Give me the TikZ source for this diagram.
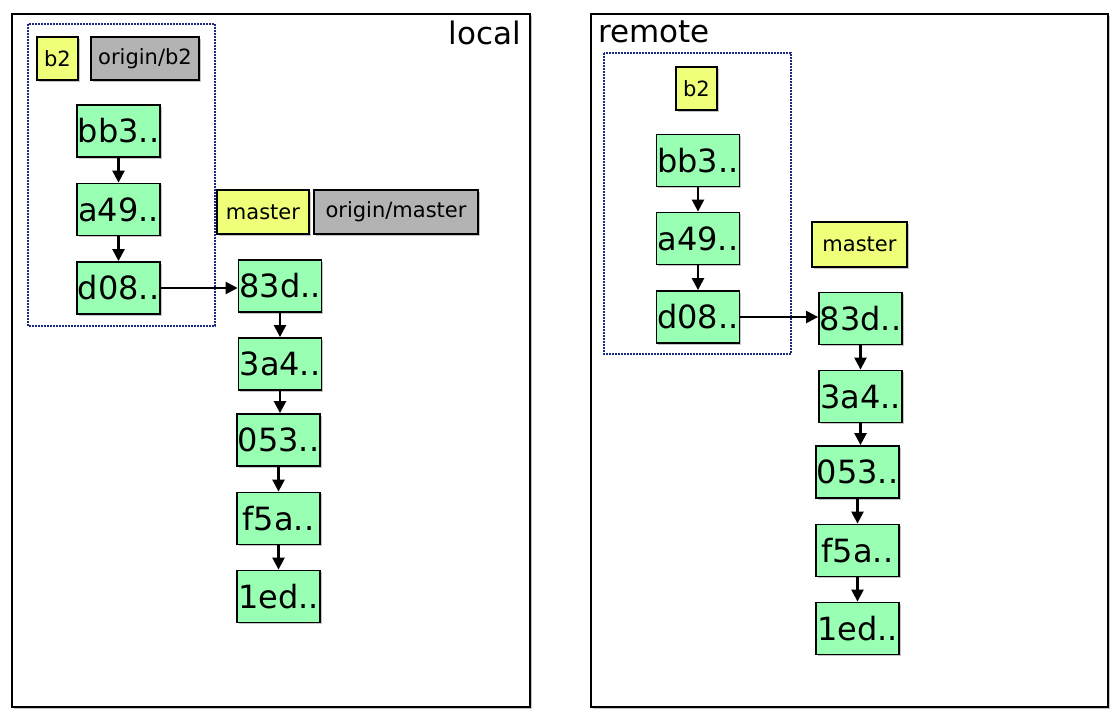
\documentclass[tikz,border=0pt]{standalone}
\usepackage{fontspec}
\setmainfont{DejaVu Sans}
\usetikzlibrary{arrows.meta,shadows}

\begin{document}
\begin{tikzpicture}[x=1pt,y=-1pt,
  commit/.style={draw,line width=1.8pt,fill=mint,minimum width=83,minimum height=52,inner sep=0,
    font=\fontsize{32}{36}\selectfont,drop shadow={shadow xshift=1.5pt,shadow yshift=-1.5pt,fill=black!45}},
  branch/.style={draw,line width=1.6pt,fill=lemon,minimum height=43,inner sep=0,
    font=\fontsize{21}{25}\selectfont,drop shadow={shadow xshift=1.5pt,shadow yshift=-1.5pt,fill=black!45}},
  tracking/.style={branch,fill=ash,line width=2.4pt},
  repo/.style={draw,line width=2.4pt,drop shadow={shadow xshift=1.5pt,shadow yshift=-1.5pt,fill=black!45}},
  group/.style={draw=navy,line width=2pt,dash pattern=on 2pt off 1pt},
  link/.style={line width=2.4pt,-{Triangle[length=12pt,width=12pt]}}]
\definecolor{mint}{HTML}{99FFB3}
\definecolor{lemon}{HTML}{EFFF7A}
\definecolor{ash}{HTML}{B3B3B3}
\definecolor{navy}{HTML}{1A2A80}
\useasboundingbox (0,0) rectangle (1120,720);
% repositories
\draw[repo,fill=white] (12,14) rectangle (530,707);
\draw[repo,fill=white] (591,14) rectangle (1108,707);
\node[anchor=base east,inner sep=0,font=\fontsize{31}{36}\selectfont] (ltitle) at (521,44) {local};
\node[anchor=base west,inner sep=0,font=\fontsize{31}{36}\selectfont] (rtitle) at (598,42) {remote};
% branch groups
\draw[group] (28,24) rectangle (215,326);
\draw[group] (604,53) rectangle (791,354);
% commits
\foreach \name/\hash/\px/\py in {lbb3/bb3../118.5/131,la49/a49../118.5/209.5,ld08/d08../118.5/288,
  l83d/83d../280/286,l3a4/3a4../280/364,l053/053../278.5/440,lf5a/f5a../278.5/518.5,l1ed/1ed../278.5/596.5,
  rbb3/bb3../698/160.5,ra49/a49../698/238.5,rd08/d08../698/317,
  r83d/83d../860.5/318.5,r3a4/3a4../860.5/396.5,r053/053../857.5/472,rf5a/f5a../857.5/550.5,r1ed/1ed../857.5/628.5}
  {  \node [commit] (\name) at (\px,\py) {\hash};}
% branches
\node[branch,minimum width=41] (lb2) at (57.5,58.5) {b2};
\node[tracking,minimum width=108] (lorigb2) at (145,58.5) {origin/b2};
\node[branch,minimum width=92,minimum height=44] (lmaster) at (263,212) {master};
\node[tracking,minimum width=164,minimum height=44] (lorigmaster) at (396,212) {origin/master};
\node[branch,minimum width=41] (rb2) at (696.5,88.5) {b2};
\node[branch,minimum width=95,minimum height=45] (rmaster) at (859.5,244.5) {master};
% parents
\foreach \a/\b in {lbb3/la49,la49/ld08,l83d/l3a4,l3a4/l053,l053/lf5a,lf5a/l1ed,
  rbb3/ra49,ra49/rd08,r83d/r3a4,r3a4/r053,r053/rf5a,rf5a/r1ed}
  {  \draw[link] (\a.south) -- (\a.south |- \b.north);}
\draw[link] (ld08.east) -- (ld08.east -| l83d.west);
\draw[link] (rd08.east) -- (rd08.east -| r83d.west);
\end{tikzpicture}
\end{document}
